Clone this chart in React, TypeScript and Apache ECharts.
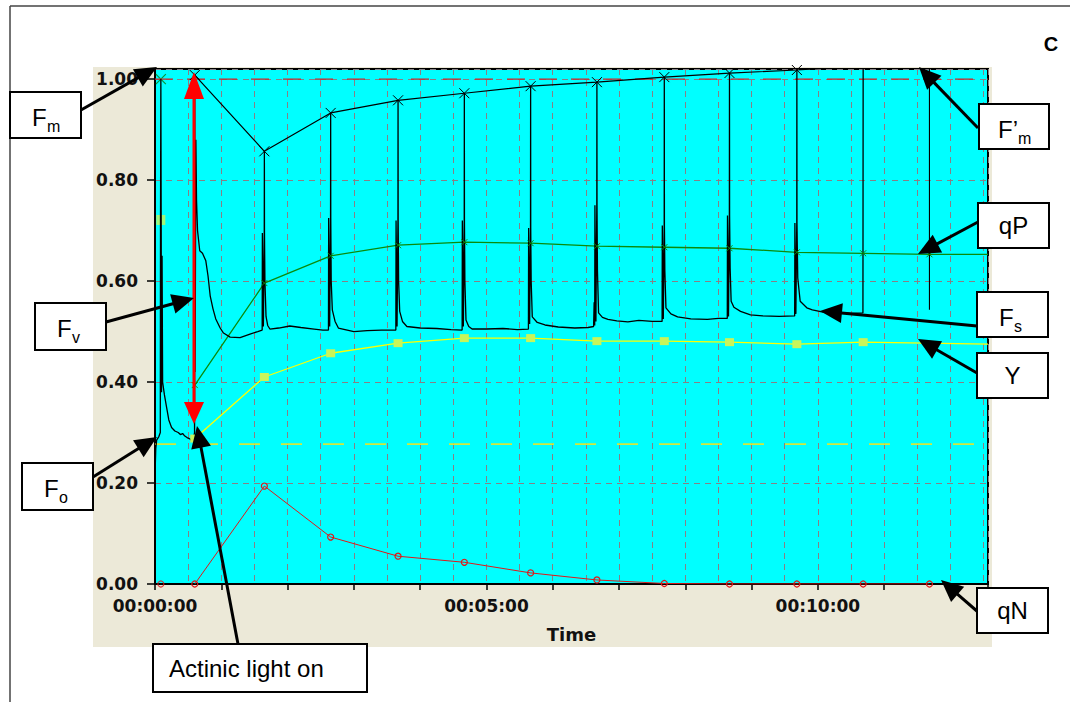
import React, { useEffect, useRef } from 'react';
import * as echarts from 'echarts';

// Saturating-pulse times (s) after the start of the recording
const pulseTimes = [36, 99, 159, 220, 280, 340, 400, 461, 520, 581, 641, 701];
// F'm read at each pulse (relative units)
const fmPrime = [1.008, 0.857, 0.933, 0.958, 0.972, 0.986, 0.994, 1.004, 1.012, 1.018, 1.026, 1.032];
// Photochemical quenching at each pulse
const qPValues = [0.394, 0.596, 0.65, 0.671, 0.677, 0.675, 0.669, 0.667, 0.665, 0.657, 0.655, 0.653];
const qPEnd: [number, number] = [754, 0.653];
// Effective quantum yield at the pulses up to 641 s
const yieldValues = [0.288, 0.41, 0.457, 0.477, 0.487, 0.487, 0.481, 0.481, 0.479, 0.475, 0.479];
const yieldEnd: [number, number] = [754, 0.475];
// Non-photochemical quenching at each pulse
const qNValues = [0.0, 0.194, 0.093, 0.055, 0.043, 0.022, 0.008, 0.001, 0.0, 0.0, 0.0, 0.0];

// Dark-adapted measurement (Fm pulse)
const darkTime = 5.3;
const darkQP = 1.0;
const darkYield = 0.721;
const darkQN = 0.0;

// Reference levels
const foLevel = 0.277;
const fmLevel = 1.0;

// Fluorescence signal [time s, relative fluorescence]
const fluorescence: [number, number][] = [
  [0, 0.215], [0.7, 0.268], [1.5, 0.285], [3.5, 0.292], [4.8, 0.3], [5.0, 0.72], [5.3, 1.0], [5.6, 0.72],
  [5.9, 0.38], [6.4, 0.65], [6.9, 0.4], [8.5, 0.375], [10.5, 0.35], [12.5, 0.325], [15, 0.31], [18, 0.303],
  [21, 0.3], [23, 0.296], [25, 0.298], [27, 0.293], [29, 0.29], [31, 0.288], [33, 0.285], [35, 0.29],
  // actinic light on
  [35.8, 0.3], [36, 1.008], [36.3, 0.42], [37, 0.88], [37.6, 0.76], [38.5, 0.7], [40.5, 0.66], [43, 0.655],
  [46, 0.64], [48, 0.61], [50, 0.57], [52.5, 0.545], [55, 0.525], [59, 0.507], [62, 0.497], [68, 0.489],
  [77, 0.488], [86, 0.495], [93, 0.5], [97, 0.503],
  [97.2, 0.695], [98.1, 0.51], [98.9, 0.695], [99, 0.857], [99.1, 0.695], [99.5, 0.6], [100.5, 0.53], [102, 0.512],
  [104, 0.505], [112, 0.507], [122, 0.511], [132, 0.508], [144, 0.505], [152, 0.503], [157, 0.503],
  [157.2, 0.725], [158.1, 0.51], [158.9, 0.725], [159, 0.933], [159.1, 0.725], [159.5, 0.6], [160.5, 0.543], [163, 0.52],
  [166, 0.507], [170, 0.505], [180, 0.5], [192, 0.502], [205, 0.503], [218, 0.503],
  [218.2, 0.72], [219.1, 0.51], [219.9, 0.72], [220, 0.958], [220.1, 0.72], [220.5, 0.6], [221.5, 0.54], [224, 0.52],
  [228, 0.51], [240, 0.507], [255, 0.506], [268, 0.504], [278, 0.503],
  [278.2, 0.72], [279.1, 0.51], [279.9, 0.72], [280, 0.972], [280.1, 0.72], [280.5, 0.6], [281.5, 0.523], [284, 0.51],
  [287, 0.505], [300, 0.505], [315, 0.506], [328, 0.504], [338, 0.505],
  [338.2, 0.705], [339.1, 0.515], [339.9, 0.705], [340, 0.986], [340.1, 0.705], [340.5, 0.6], [341.5, 0.529], [346, 0.518],
  [353, 0.513], [365, 0.509], [380, 0.507], [392, 0.508], [397, 0.51], [397.5, 0.558], [397.9, 0.515], [398, 0.512],
  [398.2, 0.75], [399.1, 0.52], [399.9, 0.75], [400, 0.994], [400.1, 0.75], [400.5, 0.62], [401.5, 0.537], [405, 0.528],
  [410, 0.524], [418, 0.521], [428, 0.519], [438, 0.522], [450, 0.52], [459, 0.52],
  [459.2, 0.71], [460.1, 0.525], [460.9, 0.71], [461, 1.004], [461.1, 0.71], [461.5, 0.62], [462.5, 0.547], [467, 0.535],
  [473, 0.529], [485, 0.525], [500, 0.524], [510, 0.526], [518, 0.526],
  [518.2, 0.73], [519.1, 0.53], [519.9, 0.73], [520, 1.012], [520.1, 0.73], [520.6, 0.626], [521.5, 0.56], [524, 0.548],
  [530, 0.54], [539, 0.533], [550, 0.531], [565, 0.53], [579, 0.531],
  [579.2, 0.715], [580.1, 0.535], [580.9, 0.715], [581, 1.018], [581.1, 0.715], [581.8, 0.606], [584, 0.56], [590, 0.547],
  [595, 0.543], [608, 0.537], [620, 0.538], [630, 0.536], [640.8, 0.537],
  [641, 1.03],
];
// Last pulse, recorded on its own
const lastPulse: [number, number][] = [[701, 0.543], [701, 1.03]];

const X_MAX = 754;
const Y_MAX = 1.02;

const clock = (s: number) => {
  const h = Math.floor(s / 3600);
  const m = Math.floor((s % 3600) / 60);
  const sec = Math.round(s % 60);
  return [h, m, sec].map((n) => String(n).padStart(2, '0')).join(':');
};

const CROSS = 'path://M0,0L10,10M0,10L10,0';
const AXIS_FONT = { fontFamily: 'DejaVu Sans', fontWeight: 'bold' as const, fontSize: 17, color: '#111' };
const GRID_LINE = { color: '#868086', width: 1, type: [6, 5] as number[] };
const BOX_FONT = 'Liberation Sans, Arial, sans-serif';

type Box = { x: number; y: number; w: number; h: number; main: string; sub?: string; subX?: number; mainX?: number; left?: number };

const boxes: Box[] = [
  { x: 10, y: 92, w: 71, h: 46, main: 'F', sub: 'm' },
  { x: 979, y: 104, w: 70, h: 45, main: 'F’', sub: 'm', mainX: 19, subX: 39 },
  { x: 978, y: 203, w: 71, h: 45, main: 'qP' },
  { x: 977, y: 292, w: 71, h: 45, main: 'F', sub: 's' },
  { x: 977, y: 353, w: 71, h: 45, main: 'Y' },
  { x: 977, y: 588, w: 71, h: 45, main: 'qN' },
  { x: 35, y: 303, w: 71, h: 47, main: 'F', sub: 'v' },
  { x: 22, y: 463, w: 71, h: 47, main: 'F', sub: 'o' },
  { x: 153, y: 644, w: 214, h: 48, main: 'Actinic light on', left: 16 },
];

const pointers: [number, number, number, number][] = [
  [81, 110, 157, 67],
  [978, 128, 919, 67],
  [978, 222, 918, 254],
  [977, 326, 820, 311],
  [977, 373, 918, 339],
  [978, 612, 941, 580],
  [106, 322, 194, 298],
  [93, 477, 157, 437],
  [238, 644, 197, 426],
];

function arrow(x1: number, y1: number, x2: number, y2: number, color: string, width: number, len: number, half: number) {
  const dx = x2 - x1;
  const dy = y2 - y1;
  const L = Math.hypot(dx, dy);
  const ux = dx / L;
  const uy = dy / L;
  const bx = x2 - ux * len;
  const by = y2 - uy * len;
  return [
    { type: 'line', z: 100, shape: { x1, y1, x2: bx + ux * 3, y2: by + uy * 3 }, style: { stroke: color, lineWidth: width } },
    {
      type: 'polygon', z: 100,
      shape: { points: [[x2, y2], [bx - uy * half, by + ux * half], [bx + uy * half, by - ux * half]] },
      style: { fill: color },
    },
  ];
}

function boxElements(b: Box) {
  const els: any[] = [
    { type: 'rect', z: 101, shape: { x: b.x, y: b.y, width: b.w, height: b.h }, style: { fill: '#fff', stroke: '#000', lineWidth: 2 } },
  ];
  if (b.sub) {
    els.push({
      type: 'text', z: 102, x: b.x + (b.mainX ?? 22), y: b.y + 25,
      style: { text: b.main, fontSize: 24, fontFamily: BOX_FONT, fill: '#000', align: 'left', verticalAlign: 'middle' },
    });
    els.push({
      type: 'text', z: 102, x: b.x + (b.subX ?? 37), y: b.y + 34,
      style: { text: b.sub, fontSize: 16, fontFamily: BOX_FONT, fill: '#000', align: 'left', verticalAlign: 'middle' },
    });
  } else if (b.left != null) {
    els.push({
      type: 'text', z: 102, x: b.x + b.left, y: b.y + b.h / 2,
      style: { text: b.main, fontSize: 24, fontFamily: BOX_FONT, fill: '#000', align: 'left', verticalAlign: 'middle' },
    });
  } else {
    els.push({
      type: 'text', z: 102, x: b.x + b.w / 2, y: b.y + b.h / 2,
      style: { text: b.main, fontSize: 24, fontFamily: BOX_FONT, fill: '#000', align: 'center', verticalAlign: 'middle' },
    });
  }
  return els;
}

export default function App() {
  const ref = useRef<HTMLDivElement>(null);

  useEffect(() => {
    if (!ref.current) return;
    const chart = echarts.init(ref.current, null, { renderer: 'svg' });

    const graphics: any[] = [
      // page frame
      { type: 'line', z: 100, shape: { x1: 10, y1: 6, x2: 1070, y2: 6 }, style: { stroke: '#444', lineWidth: 1.5 } },
      { type: 'line', z: 100, shape: { x1: 10, y1: 6, x2: 10, y2: 702 }, style: { stroke: '#444', lineWidth: 1.5 } },
      {
        type: 'text', z: 102, x: 1051, y: 44,
        style: { text: 'C', fontSize: 20, fontWeight: 'bold', fontFamily: BOX_FONT, fill: '#000', align: 'center', verticalAlign: 'middle' },
      },
      // Fv double arrow
      { type: 'line', z: 100, shape: { x1: 194, y1: 96, x2: 194, y2: 406 }, style: { stroke: '#ff0000', lineWidth: 3 } },
      { type: 'polygon', z: 100, shape: { points: [[194, 72], [184, 99], [204, 99]] }, style: { fill: '#ff0000' } },
      { type: 'polygon', z: 100, shape: { points: [[194, 424], [184, 402], [204, 402]] }, style: { fill: '#ff0000' } },
    ];
    pointers.forEach(([a, b, c, d]) => graphics.push(...arrow(a, b, c, d, '#000', 3, 22, 10)));
    boxes.forEach((b) => graphics.push(...boxElements(b)));

    chart.setOption({
      animation: false,
      grid: {
        left: 155, top: 69, right: 82, bottom: 118,
        show: true, backgroundColor: '#00ffff', borderColor: '#000', borderWidth: 2,
      },
      xAxis: [
        {
          type: 'value', min: 0, max: X_MAX, interval: 30, position: 'bottom',
          axisLine: { onZero: false, lineStyle: { color: '#000', width: 2 } },
          axisTick: { show: false },
          axisLabel: { show: false },
          splitLine: { show: true, lineStyle: GRID_LINE },
        },
        {
          type: 'value', min: 0, max: X_MAX, interval: 60, position: 'bottom',
          axisLine: { show: false, onZero: false },
          axisTick: { show: true, inside: false, length: 6, lineStyle: { color: '#000', width: 1.5 } },
          axisLabel: {
            ...AXIS_FONT, margin: 13,
            formatter: (v: number) => (Math.abs(v % 300) < 1e-6 ? clock(v) : ''),
          },
          splitLine: { show: false },
          name: 'Time', nameLocation: 'middle', nameGap: 41,
          nameTextStyle: { fontFamily: 'DejaVu Sans', fontWeight: 'bold', fontSize: 18, color: '#111' },
        },
      ],
      yAxis: {
        type: 'value', min: 0, max: Y_MAX, interval: 0.2,
        axisLine: { show: true, lineStyle: { color: '#000', width: 2 } },
        axisTick: { show: true, inside: false, length: 8, lineStyle: { color: '#000', width: 1.5 } },
        axisLabel: {
          ...AXIS_FONT, margin: 17,
          formatter: (v: number) => {
            const k = v / 0.2;
            return Math.abs(k - Math.round(k)) < 1e-6 ? v.toFixed(2) : '';
          },
        },
        splitLine: { show: true, lineStyle: GRID_LINE },
      },
      graphic: graphics,
      series: [
        {
          name: 'Fo level', type: 'line', xAxisIndex: 0, silent: true, symbol: 'none',
          data: [[0, foLevel], [X_MAX, foLevel]],
          lineStyle: { color: '#d4e83a', width: 1.6, type: [21, 21] },
        },
        {
          name: 'Fm level', type: 'line', xAxisIndex: 0, silent: true, symbol: 'none',
          data: [[0, fmLevel], [X_MAX, fmLevel]],
          lineStyle: { color: '#c8282c', width: 1.3, type: [18, 14] },
        },
        {
          name: 'qN', type: 'line', xAxisIndex: 0, silent: true,
          data: pulseTimes.map((t, i) => [t, qNValues[i]]),
          symbol: 'circle', symbolSize: 6,
          itemStyle: { color: 'transparent', borderColor: '#e01818', borderWidth: 1.2 },
          lineStyle: { color: '#e01818', width: 1 },
        },
        {
          name: 'Y', type: 'line', xAxisIndex: 0, silent: true,
          data: [
            ...yieldValues.map((v, i) => [pulseTimes[i], v]),
            { value: yieldEnd, symbol: 'none' },
          ],
          symbol: 'rect', symbolSize: [9, 8],
          itemStyle: { color: '#c8f55a' },
          lineStyle: { color: '#ffff00', width: 1.3 },
        },
        {
          name: 'qP', type: 'line', xAxisIndex: 0, silent: true,
          data: [
            ...qPValues.map((v, i) => [pulseTimes[i], v]),
            { value: qPEnd, symbol: 'none' },
          ],
          symbol: CROSS, symbolSize: 6,
          itemStyle: { color: 'transparent', borderColor: '#0b8a0b', borderWidth: 1 },
          lineStyle: { color: '#0b8a0b', width: 1.3 },
        },
        {
          name: 'Fluorescence', type: 'line', xAxisIndex: 0, silent: true, symbol: 'none',
          data: fluorescence,
          lineStyle: { color: '#000', width: 1.3 },
        },
        {
          name: 'Fluorescence (last pulse)', type: 'line', xAxisIndex: 0, silent: true, symbol: 'none',
          data: lastPulse,
          lineStyle: { color: '#000', width: 1.1 },
        },
        {
          name: "F'm", type: 'line', xAxisIndex: 0, silent: true,
          data: pulseTimes.map((t, i) => [t, fmPrime[i]]),
          symbol: CROSS, symbolSize: 10,
          itemStyle: { color: 'transparent', borderColor: '#000', borderWidth: 1 },
          lineStyle: { color: '#000', width: 1.2 },
        },
        {
          name: 'qP dark', type: 'scatter', xAxisIndex: 0, silent: true, clip: false,
          data: [[darkTime, darkQP]], symbol: CROSS, symbolSize: 10,
          itemStyle: { color: 'transparent', borderColor: '#0a7a0a', borderWidth: 1.2 },
        },
        {
          name: 'Y dark', type: 'scatter', xAxisIndex: 0, silent: true, clip: false,
          data: [[darkTime, darkYield]], symbol: 'rect', symbolSize: [9, 10],
          itemStyle: { color: '#c8f55a' },
        },
        {
          name: 'qN dark', type: 'scatter', xAxisIndex: 0, silent: true, clip: false,
          data: [[darkTime, darkQN]], symbol: 'circle', symbolSize: 6,
          itemStyle: { color: 'transparent', borderColor: '#e01818', borderWidth: 1.2 },
        },
      ],
    });

    return () => chart.dispose();
  }, []);

  return (
    <div style={{ position: 'fixed', left: 0, top: 0, width: 1070, height: 702, background: '#fff', overflow: 'hidden' }}>
      <div style={{ position: 'absolute', left: 93, top: 67, width: 899, height: 580, background: '#ece9d8' }} />
      <div ref={ref} style={{ position: 'absolute', left: 0, top: 0, width: 1070, height: 702 }} />
    </div>
  );
}
